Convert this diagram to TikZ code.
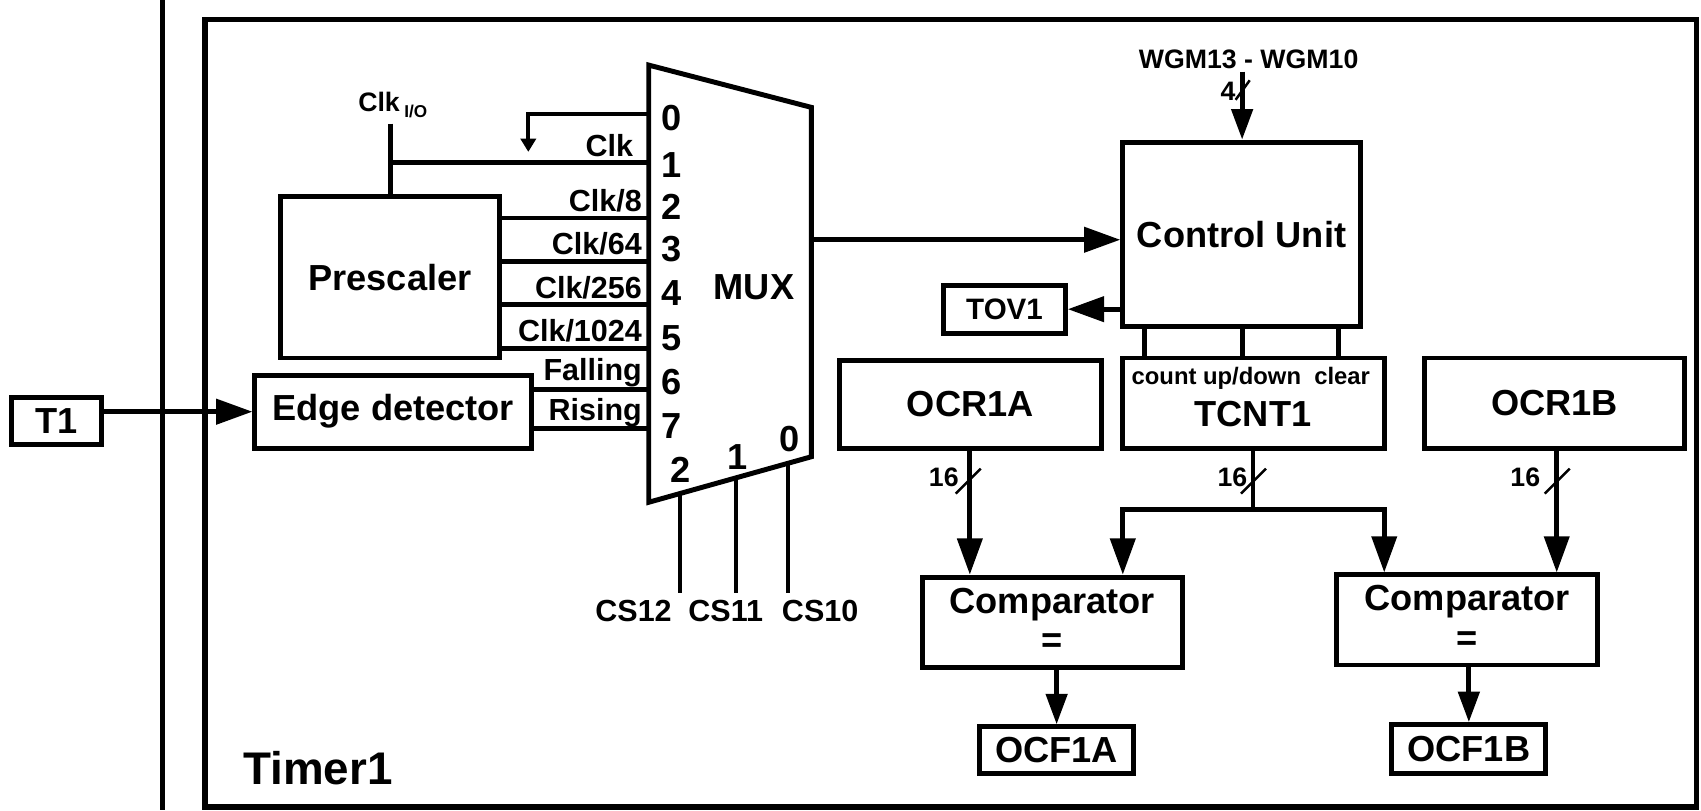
\documentclass[tikz,border=0pt]{standalone}
\usepackage{fontspec}
\setmainfont{Liberation Sans}
\usetikzlibrary{arrows.meta}
\begin{document}
\begin{tikzpicture}[x=0.2mm,y=-0.2mm,line join=miter,
  box/.style={draw,line width=2.6pt,inner sep=0pt,font=\fontsize{19}{21}\selectfont\bfseries},
  sz/.style 2 args={minimum width=#1*0.2mm,minimum height=#2*0.2mm},
  wire/.style={line width=2.5pt},
  selwire/.style={line width=2.1pt},
  arr/.style={wire,-{Triangle[length=19pt,width=13pt]}},
  sarr/.style={wire,-{Triangle[length=16pt,width=11pt]}},
  gndarr/.style={line width=2pt,-{Triangle[length=7pt,width=8pt]}},
  sig/.style={font=\fontsize{16}{18}\selectfont\bfseries,inner sep=0pt},
  num/.style={font=\fontsize{19}{21}\selectfont\bfseries,inner sep=0pt},
  big/.style={font=\fontsize{19}{21}\selectfont\bfseries,inner sep=0pt},
  small/.style={font=\fontsize{14}{16}\selectfont\bfseries,inner sep=0pt},
  slash/.style={line width=1.3pt}]

\fill[white] (0,0) rectangle (1568,747);
\useasboundingbox (0,0) rectangle (1568,747);

% outer frame lines
\coordinate (vtop) at (150,0);
\coordinate (vbot) at (150,747);
\draw[line width=2.8pt] (vtop) -- (vbot);
\draw[line width=2.8pt] (189,18) rectangle (1564,744);

% boxes
\node[box,sz={83}{44}] (T1) at (52.5,388) {T1};
\node[box,sz={255}{67}] (edge) at (362.5,379.5) {Edge detector};
\node[box,sz={201}{149}] (presc) at (359.5,255.5) {Prescaler};
\node[box,sz={219}{170}] (cu) at (1144.5,216) {Control Unit};
\node[box,sz={112}{44},font=\fontsize{15.5}{17}\selectfont\bfseries] (tov) at (926,285) {TOV1};
\node[box,sz={241}{83}] (tcnt) at (1155.5,371.5) {};
\node[box,sz={241}{81}] (ocra) at (894.5,372.5) {OCR1A};
\node[box,sz={240}{83}] (ocrb) at (1433,371.5) {OCR1B};
\node[box,sz={240}{83}] (compa) at (970,573.5) {};
\node[box,sz={241}{83}] (compb) at (1352.5,571.5) {};
\node[box,sz={142}{43}] (ocfa) at (974,691.5) {OCF1A};
\node[box,sz={142}{45}] (ocfb) at (1354,690.5) {OCF1B};

% texts inside two-line boxes
\node[font=\fontsize{12.5}{14}\selectfont\bfseries,inner sep=0pt] (tcntlbl) at (1153,349) {count up/down\ \ clear};
\node[big] (tcnttxt) at (1155,382) {TCNT1};
\node[big] (compatxt) at (970,557) {Comparator};
\node[big] (compaeq) at (970,593) {=};
\node[big] (compbtxt) at (1352.5,555) {Comparator};
\node[big] (compbeq) at (1352.5,591) {=};

% MUX
\coordinate (mtl) at (598,60);
\coordinate (mtr) at (748,99);
\coordinate (mbr) at (748,421);
\coordinate (mbl) at (598,463);
\draw[line width=2.6pt] (mtl) -- (mtr) -- (mbr) -- (mbl) -- cycle;
\node[big] (muxlbl) at (695,265) {MUX};

\coordinate (in0) at (598,105);
\coordinate (in1) at (598,150);
\coordinate (in2) at (598,201);
\coordinate (in3) at (598,241);
\coordinate (in4) at (598,281);
\coordinate (in5) at (598,321);
\coordinate (in6) at (598,359);
\coordinate (in7) at (598,395);

\foreach \n/\y in {0/109,1/152,2/191,3/230,4/270,5/312,6/352,7/393}
  \node[num] (n\n) at (619,\y) {\n};

% input 0 (tied low)
\coordinate (gnd) at (487,140);
\draw[gndarr] (in0) -| (gnd);

% Clk I/O
\node[font=\fontsize{14}{16}\selectfont\bfseries,inner sep=0pt] (clkio) at (362,97) {Clk\,\raisebox{-.45ex}{\fontsize{9}{10}\selectfont I/O}};
\coordinate (clktop) at (360,114);
\draw[wire] (clktop) -- (presc.north -| clktop);
\draw[wire] (clktop |- in1) -- (in1);
\node[sig,anchor=base east] (lclk) at (584,144) {Clk};

% prescaler outputs
\draw[wire] (presc.east |- in2) -- (in2);
\draw[wire] (presc.east |- in3) -- (in3);
\draw[wire] (presc.east |- in4) -- (in4);
\draw[wire] (presc.east |- in5) -- (in5);
\node[sig,anchor=base east] (l2) at (592,195) {Clk/8};
\node[sig,anchor=base east] (l3) at (592,235) {Clk/64};
\node[sig,anchor=base east] (l4) at (592,275) {Clk/256};
\node[sig,anchor=base east] (l5) at (592,315) {Clk/1024};

% edge detector outputs
\draw[wire] (edge.east |- in6) -- (in6);
\draw[wire] (edge.east |- in7) -- (in7);
\node[sig,anchor=base east] (l6) at (592,351) {Falling};
\node[sig,anchor=base east] (l7) at (592,388) {Rising};

% T1 -> edge detector
\draw[arr] (T1.east |- edge.west) -- (edge.west);

% select inputs
\coordinate (s2) at (627,455);
\coordinate (s1) at (678,442);
\coordinate (s0) at (726,428);
\coordinate (e2) at (627,547);
\coordinate (e1) at (678,547);
\coordinate (e0) at (726,547);
\draw[selwire] (s2) -- (e2);
\draw[selwire] (s1) -- (e1);
\draw[selwire] (s0) -- (e0);
\node[num] (b2) at (627,433) {2};
\node[num] (b1) at (680,421) {1};
\node[num] (b0) at (728,405) {0};
\node[sig] (cs12) at (584,563) {CS12};
\node[sig] (cs11) at (669,563) {CS11};
\node[sig] (cs10) at (756,563) {CS10};

% MUX -> control unit
\coordinate (muxout) at (748,221);
\draw[arr] (muxout) -- (cu.west |- muxout);

% WGM
\node[small] (wgm) at (1151,55) {WGM13 - WGM10};
\coordinate (wgmtop) at (1145,66);
\draw[sarr] (wgmtop) -- (cu.north -| wgmtop);
\draw[slash] (1139,92) -- (1152,74);
\node[small] (w4) at (1132,84) {4};

% CU -> TOV1
\draw[arr] (cu.west |- tov.east) -- (tov.east);

% CU -> TCNT1
\foreach \x in {1055,1145,1234}
  \draw[wire] (cu.south -| \x,0) -- (tcnt.north -| \x,0);

% OCR1A -> comparator A
\coordinate (ja) at (894,0);
\draw[arr] (ocra.south -| ja) -- (compa.north -| ja);
\draw[slash] (881,455) -- (904,432);
\node[small] (b16a) at (870,440) {16};

% TCNT1 -> comparators
\coordinate (jt) at (1155,470);
\draw[wire] (tcnt.south -| jt) -- (jt);
\draw[slash] (1144,455) -- (1167,432);
\node[small] (b16t) at (1136,440) {16};
\draw[arr] (jt) -| (compa.north -| 1035,0);
\draw[arr] (jt) -| (compb.north -| 1276,0);

% OCR1B -> comparator B
\coordinate (jb) at (1435,0);
\draw[arr] (ocrb.south -| jb) -- (compb.north -| jb);
\draw[slash] (1424,455) -- (1447,432);
\node[small] (b16b) at (1406,440) {16};

% comparators -> flags
\draw[sarr] (compa.south -| ocfa.north) -- (ocfa.north);
\draw[sarr] (compb.south -| ocfb.north) -- (ocfb.north);

% title
\node[font=\fontsize{24}{28}\selectfont\bfseries,inner sep=0pt] (title) at (293,708) {Timer1};
\end{tikzpicture}
\end{document}
